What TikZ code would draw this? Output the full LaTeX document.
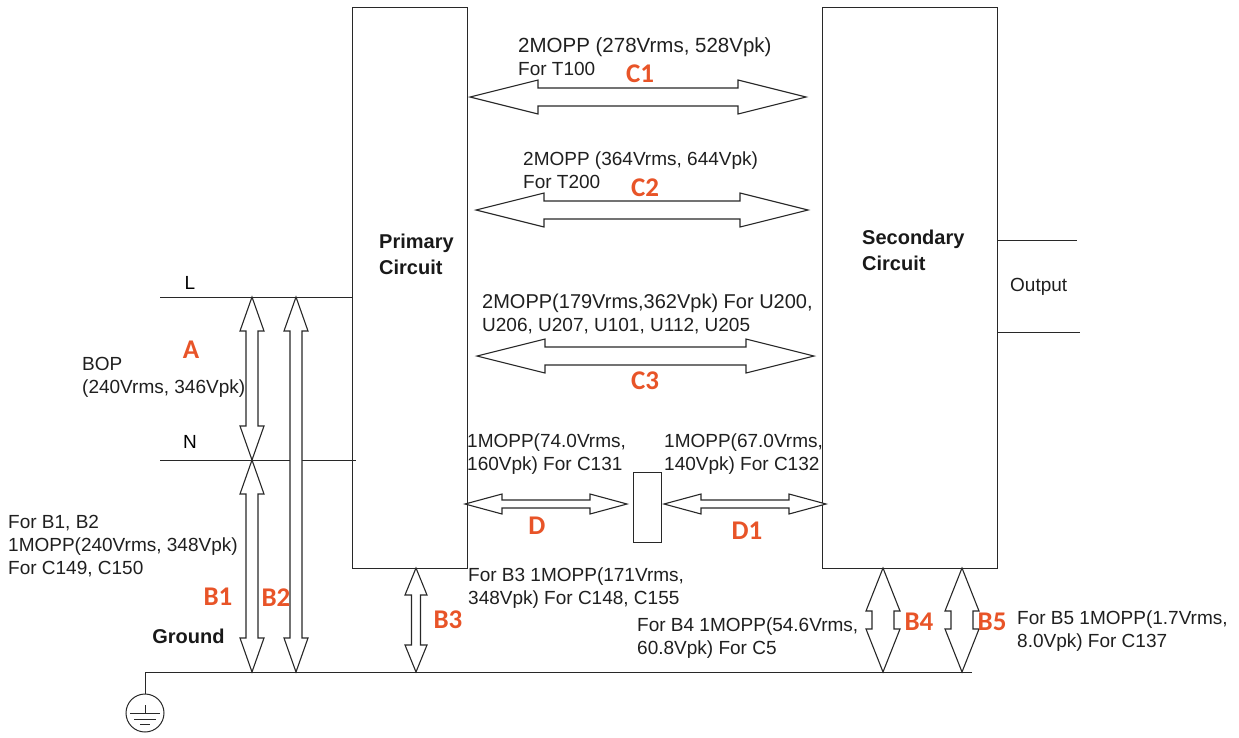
\documentclass[tikz,border=0pt]{standalone}
\usepackage{fontspec}
\setmainfont{Liberation Sans}
\newfontfamily\labfont{Carlito}
\usetikzlibrary{calc}
\definecolor{labc}{RGB}{232,84,40}
\definecolor{ln}{RGB}{40,40,40}
\newcommand\harr[5]{\draw[barrow] let \p1=(#1), \p2=(#2) in (\x1,\y1) -- (\x1+#5,\y1+#4) -- (\x1+#5,\y1+#3) -- (\x2-#5,\y1+#3) -- (\x2-#5,\y1+#4) -- (\x2,\y1) -- (\x2-#5,\y1-#4) -- (\x2-#5,\y1-#3) -- (\x1+#5,\y1-#3) -- (\x1+#5,\y1-#4) -- cycle;}
\newcommand\varr[5]{\draw[barrow] let \p1=(#1), \p2=(#2) in (\x1,\y1) -- (\x1+#4,\y1-#5) -- (\x1+#3,\y1-#5) -- (\x1+#3,\y2+#5) -- (\x1+#4,\y2+#5) -- (\x1,\y2) -- (\x1-#4,\y2+#5) -- (\x1-#3,\y2+#5) -- (\x1-#3,\y1-#5) -- (\x1-#4,\y1-#5) -- cycle;}
\tikzset{
 box/.style={draw=ln, line width=1pt, inner sep=0, outer sep=0, anchor=north west},
 wire/.style={draw=ln, line width=1pt},
 barrow/.style={draw=ln, line width=1.1pt, fill=white, line join=miter},
 txt/.style={font=\fontsize{19}{23}\selectfont, align=left, anchor=west, inner sep=0, text=black!88},
 lab/.style={font=\labfont\bfseries\fontsize{27}{27}\selectfont, text=labc, inner sep=0},
 bold/.style={font=\bfseries\fontsize{20}{26}\selectfont, align=left, inner sep=0, text=black!90},
}
\begin{document}
\begin{tikzpicture}[x=1pt,y=-1pt]
\useasboundingbox (0,0) rectangle (1239,737);
% boxes
\node[box, minimum width=115, minimum height=561] (prim) at (352,7) {};
\node[box, minimum width=175, minimum height=561] (sec) at (822,7) {};
\node[box, minimum width=28, minimum height=70] (mid) at (633,472) {};
\node[bold, anchor=west] (primt) at (379,254) {Primary\\Circuit};
\node[bold, anchor=west] (sect) at (862,250) {Secondary\\Circuit};
% wires
\coordinate (Ls) at (160,297);
\coordinate (Ns) at (160,460);
\coordinate (Ne) at (356,460);
\draw[wire] (Ls) -- (Ls -| prim.west);
\draw[wire] (Ns) -- (Ne);
\coordinate (o1) at (1077,240);
\coordinate (o2) at (1080,332);
\draw[wire] (o1 -| sec.east) -- (o1);
\draw[wire] (o2 -| sec.east) -- (o2);
\node[txt] (outt) at (1010,287) {Output};
\node[font=\fontsize{19}{23}\selectfont, inner sep=0] (Lt) at (190,283) {L};
\node[font=\fontsize{19}{23}\selectfont, inner sep=0] (Nt) at (190,442) {N};
% ground
\coordinate (g0) at (145,672);
\coordinate (gE) at (972,672);
\node[draw=ln, line width=1pt, circle, minimum size=38, inner sep=0, outer sep=0] (gnd) at (145,713) {};
\draw[wire] (gE) -- (g0) -- (gnd.north);
\draw[wire] ($(gnd.center)+(0,-8)$) -- (gnd.center);
\draw[wire] ($(gnd.center)+(-15,0)$) -- ($(gnd.center)+(15,0)$);
\draw[wire] ($(gnd.center)+(-11,6)$) -- ($(gnd.center)+(11,6)$);
\draw[wire] ($(gnd.center)+(-5,11)$) -- ($(gnd.center)+(5,11)$);
\node[bold] (gt) at (188.5,636) {Ground};
% horizontal arrows
\coordinate (c1a) at (470,97);  \coordinate (c1b) at (806,97);
\coordinate (c2a) at (476,210); \coordinate (c2b) at (808,210);
\coordinate (c3a) at (477,356); \coordinate (c3b) at (814,356);
\harr{c1a}{c1b}{9}{17}{68}
\harr{c2a}{c2b}{9}{17}{68}
\harr{c3a}{c3b}{9}{17}{68}
\coordinate (da) at (465,504); \coordinate (db) at (627,504);
\coordinate (d1a) at (664,504); \coordinate (d1b) at (826,504);
\harr{da}{db}{4}{10}{37}
\harr{d1a}{d1b}{4}{10}{37}
% vertical arrows
\coordinate (aT) at (252,297); \coordinate (aB) at (252,460);
\varr{aT}{aB}{6}{12}{34}
\coordinate (b1T) at (252,460); \coordinate (b1B) at (252,672);
\varr{b1T}{b1B}{6}{12}{34}
\coordinate (b2T) at (296,297); \coordinate (b2B) at (296,672);
\varr{b2T}{b2B}{6}{12}{34}
\coordinate (b3T) at (416,568); \coordinate (b3B) at (416,672);
\varr{b3T}{b3B}{4.5}{11}{27}
\coordinate (b4T) at (883,568); \coordinate (b4B) at (883,672);
\varr{b4T}{b4B}{11}{17}{43}
\coordinate (b5T) at (962,568); \coordinate (b5B) at (962,672);
\varr{b5T}{b5B}{11}{17}{43}
% texts
\node[txt] (t1) at (518,57) {{\fontsize{20.5}{23}\selectfont 2MOPP (278Vrms, 528Vpk)}\\For T100};
\node[txt] (t2) at (523,170) {2MOPP (364Vrms, 644Vpk)\\For T200};
\node[txt] (t3) at (482,313.5) {{\fontsize{20}{23}\selectfont 2MOPP(179Vrms,362Vpk) For U200,}\\U206, U207, U101, U112, U205};
\node[txt] (td) at (467,454) {1MOPP(74.0Vrms,\\160Vpk) For C131};
\node[txt] (td1) at (664,454) {1MOPP(67.0Vrms,\\140Vpk) For C132};
\node[txt] (ta) at (82,377.5) {BOP\\(240Vrms, 346Vpk)};
\node[txt] (tb1) at (8,546) {For B1, B2\\1MOPP(240Vrms, 348Vpk)\\For C149, C150};
\node[txt] (tb3) at (468,588) {For B3 1MOPP(171Vrms,\\348Vpk) For C148, C155};
\node[txt] (tb4) at (637,638) {For B4 1MOPP(54.6Vrms,\\60.8Vpk) For C5};
\node[txt] (tb5) at (1017,631) {For B5 1MOPP(1.7Vrms,\\8.0Vpk) For C137};
% labels
\node[lab] (lC1) at (640,74) {C1};
\node[lab] (lC2) at (645,188) {C2};
\node[lab] (lC3) at (645,381) {C3};
\node[lab] (lD) at (537,526) {D};
\node[lab] (lD1) at (747,531) {D1};
\node[lab] (lA) at (191,350) {A};
\node[lab] (lB1) at (218,597) {B1};
\node[lab] (lB2) at (276,598) {B2};
\node[lab] (lB3) at (448,620) {B3};
\node[lab] (lB4) at (919,622) {B4};
\node[lab] (lB5) at (992,622) {B5};
\end{tikzpicture}
\end{document}
